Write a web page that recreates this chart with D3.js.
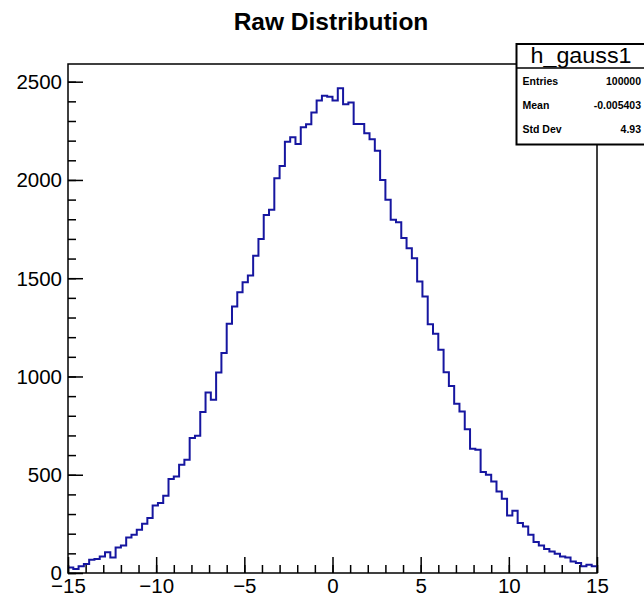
<!DOCTYPE html>
<html><head><meta charset="utf-8">
<script src="https://cdn.jsdelivr.net/npm/d3@7"></script>
<style>body{margin:0;background:#fff}svg{display:block}</style>
</head><body><svg id="c" width="644" height="598"></svg>
<script>
// ---- data ----
const binCounts = [
  28,20,34,46,68,71,84,105,79,130,140,181,195,220,251,280,344,356,393,478,491,551,576,687,698,819,919,881,
  1020,1119,1268,1356,1429,1480,1514,1614,1700,1822,1848,2009,2071,2195,2217,2183,2268,2283,2343,2404,2429,2423,
  2404,2467,2385,2394,2285,2285,2238,2207,2148,2000,1899,1797,1785,1704,1653,1602,1483,1407,1266,1217,1136,1022,951,
  861,822,732,632,627,514,500,466,415,378,293,317,254,237,195,158,140,122,110,98,84,79,59,51,34,42,34
];
const xRange = [-15, 15];
const yMax = 2590;
const xMajorTicks = [-15,-10,-5,0,5,10,15];
const xMinorTicks = d3.range(-15, 16, 1);
const yMajorTicks = [0,500,1000,1500,2000,2500];
const yMinorTicks = d3.range(0, 2600, 100);
const titleText = "Raw Distribution";
const statsName = "h_gauss1";
const statsLabels = ["Entries","Mean","Std Dev"];
const statsValues = ["100000","-0.005403","4.93"];

// ---- layout ----
const L = 68, R = 597, T = 64, B = 573;
const svg = d3.select("#c");
const x = d3.scaleLinear().domain(xRange).range([L, R]);
const y = d3.scaleLinear().domain([0, yMax]).range([B, T]);
const font = "'Liberation Sans', Arial, Helvetica, sans-serif";

// frame
svg.append("rect").attr("x", L).attr("y", T).attr("width", R - L).attr("height", B - T)
  .attr("fill", "none").attr("stroke", "#000").attr("stroke-width", 1.5);

// histogram
const w = (xRange[1] - xRange[0]) / binCounts.length;
const pts = binCounts.map((c, i) => [xRange[0] + i * w, c]);
pts.push([xRange[1], binCounts[binCounts.length - 1]]);
const line = d3.line().x(d => x(d[0])).y(d => y(d[1])).curve(d3.curveStepAfter);
svg.append("path").attr("d", line(pts)).attr("fill", "none")
  .attr("stroke", "#1616a0").attr("stroke-width", 2);

// axes
function styleAxis(g) {
  g.selectAll("path.domain").remove();
  g.selectAll(".tick line").attr("stroke", "#000").attr("stroke-width", 1.5);
}
const gxMinor = svg.append("g").attr("transform", `translate(0,${B})`)
  .call(d3.axisBottom(x).tickValues(xMinorTicks).tickSize(-8).tickSizeOuter(0).tickFormat(""));
styleAxis(gxMinor);
const gx = svg.append("g").attr("transform", `translate(0,${B})`)
  .call(d3.axisBottom(x).tickValues(xMajorTicks).tickSize(-16).tickSizeOuter(0));
styleAxis(gx);
gx.selectAll("text").attr("font-family", font).attr("font-size", 20.5).attr("fill", "#000")
  .attr("y", 20).attr("dy", 0);

const gyMinor = svg.append("g").attr("transform", `translate(${L},0)`)
  .call(d3.axisLeft(y).tickValues(yMinorTicks).tickSize(-8).tickSizeOuter(0).tickFormat(""));
styleAxis(gyMinor);
const gy = svg.append("g").attr("transform", `translate(${L},0)`)
  .call(d3.axisLeft(y).tickValues(yMajorTicks).tickSize(-15).tickSizeOuter(0).tickFormat(d3.format("d")));
styleAxis(gy);
gy.selectAll("text").attr("font-family", font).attr("font-size", 20.5).attr("fill", "#000")
  .attr("x", -6).attr("dy", "0.34em");

// title
svg.append("text").attr("x", 331).attr("y", 30)
  .attr("text-anchor", "middle").attr("font-family", font).attr("font-weight", "bold")
  .attr("font-size", 24.5).attr("fill", "#000").text(titleText);

// stats box
const sb = svg.append("g");
sb.append("rect").attr("x", 516.5).attr("y", 44).attr("width", 150).attr("height", 100.5)
  .attr("fill", "#fff").attr("stroke", "#000").attr("stroke-width", 2);
sb.append("line").attr("x1", 516.5).attr("x2", 644).attr("y1", 68).attr("y2", 68)
  .attr("stroke", "#000").attr("stroke-width", 1.5);
sb.append("text").attr("transform", "translate(581,63) scale(1.06,1)").attr("text-anchor", "middle")
  .attr("font-family", font).attr("font-size", 22).attr("fill", "#000").text(statsName);
const rowY = [85, 108.5, 133];
statsLabels.forEach((s, i) => {
  sb.append("text").attr("x", 522.5).attr("y", rowY[i]).attr("font-family", font)
    .attr("font-weight", "bold").attr("font-size", 10.5).attr("fill", "#000").text(s);
  sb.append("text").attr("x", 641).attr("y", rowY[i]).attr("text-anchor", "end").attr("font-family", font)
    .attr("font-weight", "bold").attr("font-size", 10.5).attr("fill", "#000").text(statsValues[i]);
});
</script></body></html>
